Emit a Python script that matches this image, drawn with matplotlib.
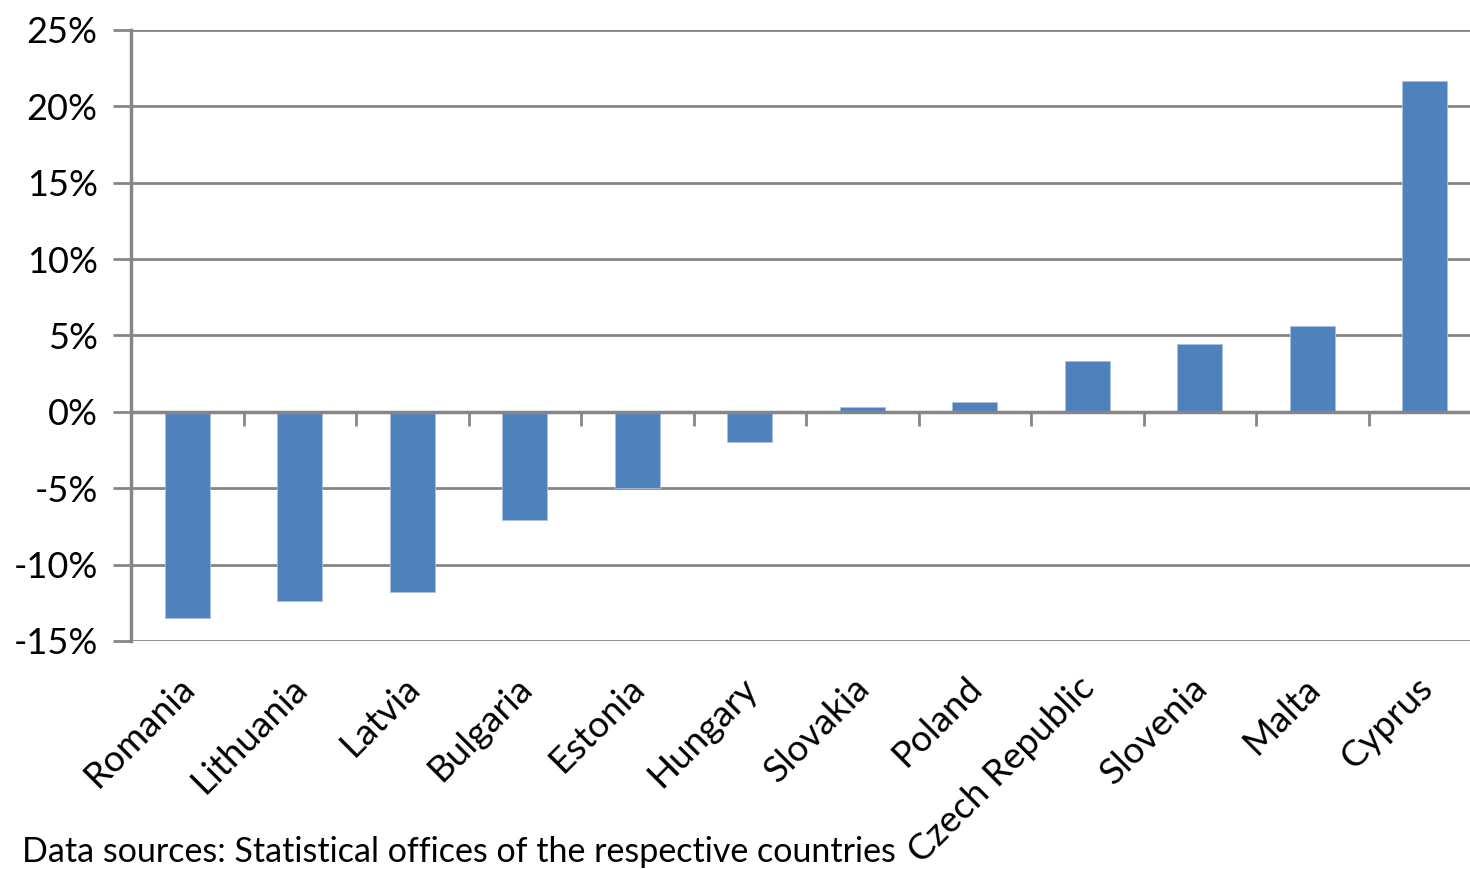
import numpy as np
import matplotlib.pyplot as plt
import matplotlib.transforms as mtransforms

# values (percent)
countries = ["Romania", "Lithuania", "Latvia", "Bulgaria", "Estonia", "Hungary",
             "Slovakia", "Poland", "Czech Republic", "Slovenia", "Malta", "Cyprus"]
change = [-13.5, -12.4, -11.8, -7.1, -5.0, -2.0, 0.3, 0.65, 3.3, 4.45, 5.6, 21.65]
yticks = [-15, -10, -5, 0, 5, 10, 15, 20, 25]
source = "Data sources: Statistical offices of the respective countries"

plt.rcParams['font.family'] = ['Lato', 'DejaVu Sans']
grey = '#868686'

fig = plt.figure(figsize=(14.7, 8.69), dpi=100)
ax = fig.add_axes([131/1470, 1 - 641/869, 1350/1470, (641 - 30)/869])

x = np.arange(len(countries))
ax.bar(x, change, width=0.4, color='#4F81BD', edgecolor='#A9C0E0', linewidth=0.6, zorder=3)

ax.set_xlim(-0.5, len(countries) - 0.5)
ax.set_ylim(-15, 25)
ax.set_yticks(yticks)
ax.set_yticklabels([f"{v}%" for v in yticks], fontsize=26)
ax.yaxis.grid(True, color=grey, linewidth=2, zorder=1)
ax.tick_params(axis='y', length=13, width=2, color=grey, pad=11)

for s in ['top', 'right']:
    ax.spines[s].set_visible(False)
ax.spines['left'].set_color(grey)
ax.spines['left'].set_linewidth(2.5)
ax.spines['bottom'].set_position(('data', 0))
ax.spines['bottom'].set_color(grey)
ax.spines['bottom'].set_linewidth(2.5)
ax.spines['bottom'].set_zorder(4)

ax.set_xticks(np.arange(len(countries) + 1) - 0.5)
ax.set_xticklabels([])
ax.tick_params(axis='x', length=10, width=2, color=grey, direction='out')

trans = mtransforms.blended_transform_factory(ax.transData, ax.transAxes)
for i, name in enumerate(countries):
    ax.text(i + 0.02, -0.068, name, transform=trans, rotation=45, rotation_mode='anchor',
            ha='right', va='center', fontsize=26.5)

fig.text(22/1470, 1 - 862/869, source, fontsize=24.5, ha='left', va='baseline')

fig.savefig('out.png', dpi=100)
